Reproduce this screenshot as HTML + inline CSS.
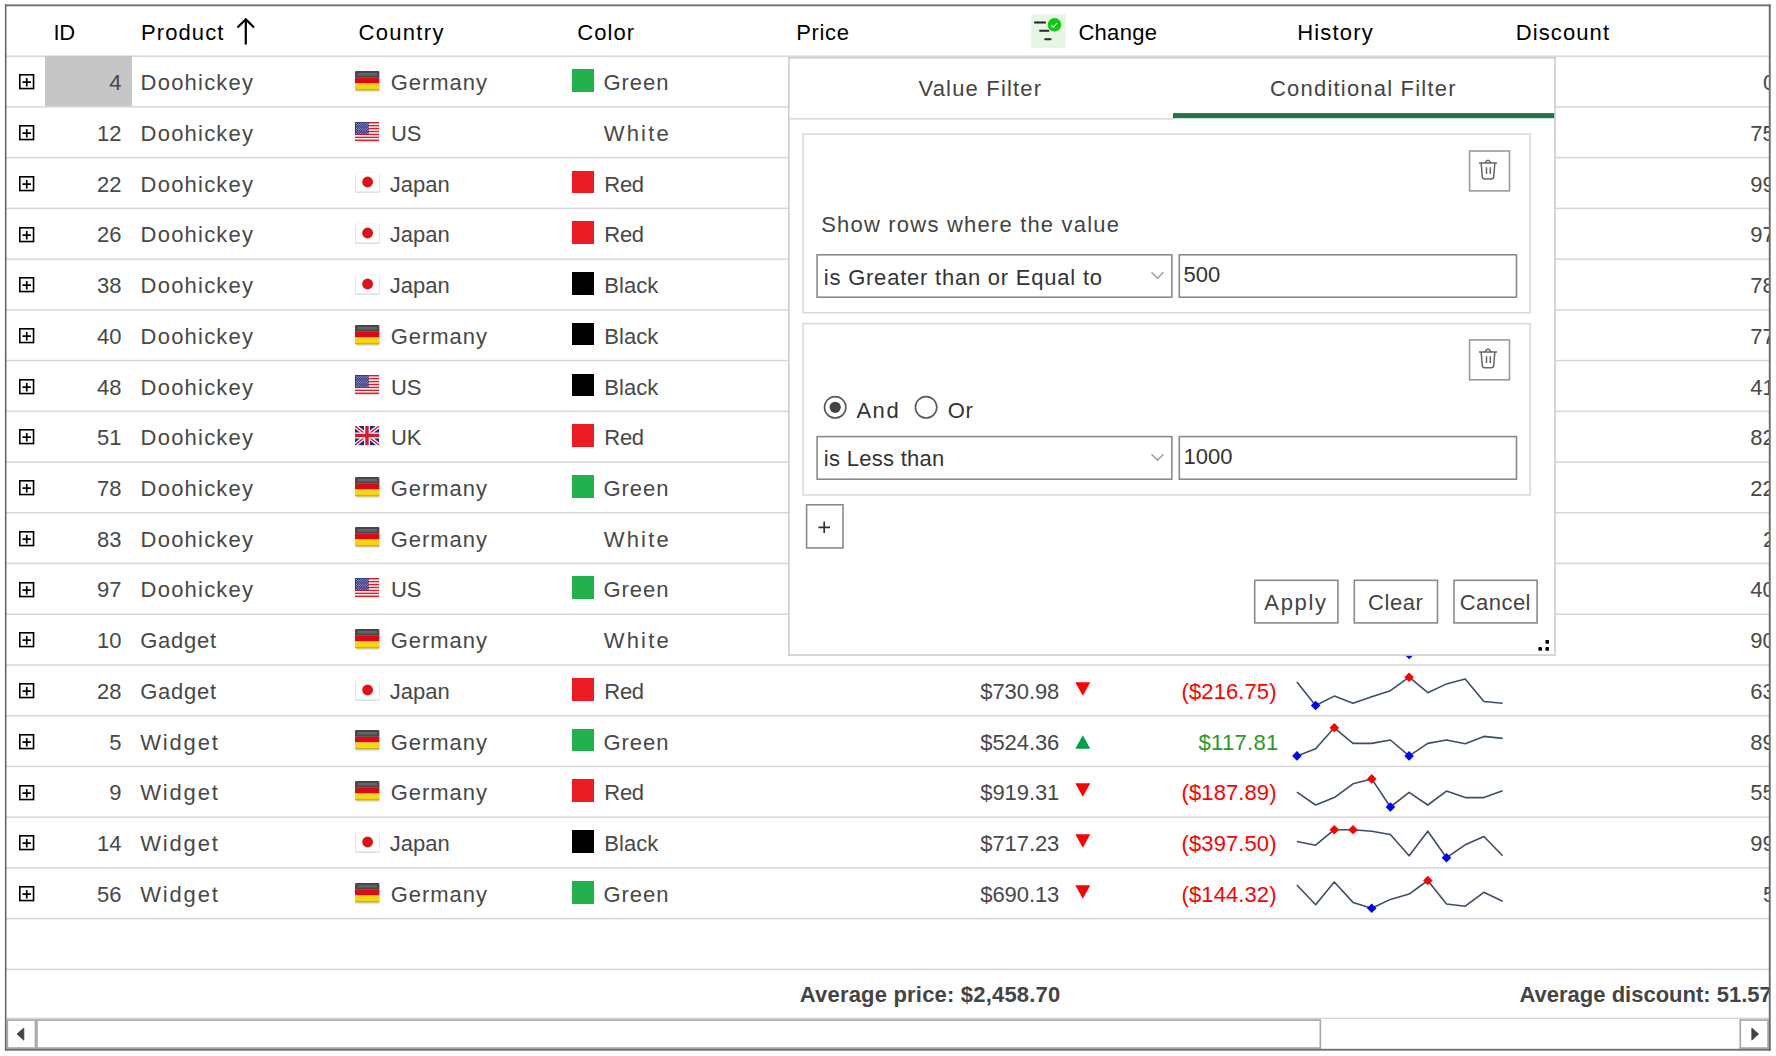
<!DOCTYPE html>
<html><head><meta charset="utf-8"><style>
html,body{margin:0;padding:0;background:#fff;}
body{width:1776px;height:1056px;position:relative;overflow:hidden;font-family:"Liberation Sans",sans-serif;}
.a{position:absolute;}
.t{position:absolute;white-space:nowrap;}
#clip{position:absolute;left:0;top:0;width:1776px;height:1056px;clip-path:inset(0 7px 0 0);}
</style></head><body>
<div id="clip"><svg class="a" style="left:0;top:0" width="1776" height="1056"><rect x="6" y="55.45" width="1764" height="1.5" fill="#d6d6d6"/><rect x="6" y="106.18" width="1764" height="1.5" fill="#d6d6d6"/><rect x="6" y="156.91" width="1764" height="1.5" fill="#d6d6d6"/><rect x="6" y="207.64" width="1764" height="1.5" fill="#d6d6d6"/><rect x="6" y="258.37" width="1764" height="1.5" fill="#d6d6d6"/><rect x="6" y="309.10" width="1764" height="1.5" fill="#d6d6d6"/><rect x="6" y="359.83" width="1764" height="1.5" fill="#d6d6d6"/><rect x="6" y="410.56" width="1764" height="1.5" fill="#d6d6d6"/><rect x="6" y="461.29" width="1764" height="1.5" fill="#d6d6d6"/><rect x="6" y="512.02" width="1764" height="1.5" fill="#d6d6d6"/><rect x="6" y="562.75" width="1764" height="1.5" fill="#d6d6d6"/><rect x="6" y="613.48" width="1764" height="1.5" fill="#d6d6d6"/><rect x="6" y="664.21" width="1764" height="1.5" fill="#d6d6d6"/><rect x="6" y="714.94" width="1764" height="1.5" fill="#d6d6d6"/><rect x="6" y="765.67" width="1764" height="1.5" fill="#d6d6d6"/><rect x="6" y="816.40" width="1764" height="1.5" fill="#d6d6d6"/><rect x="6" y="867.13" width="1764" height="1.5" fill="#d6d6d6"/><rect x="6" y="917.86" width="1764" height="1.5" fill="#d6d6d6"/><rect x="6" y="968.59" width="1764" height="1.5" fill="#d6d6d6"/><rect x="45" y="55.9" width="87" height="50.3" fill="#c6c6c6"/></svg><div class="t" style="top:21.58px;font-size:22px;line-height:22px;color:#000;letter-spacing:-0.300px;left:53.40px;">ID</div><div class="t" style="top:21.58px;font-size:22px;line-height:22px;color:#000;letter-spacing:1.100px;left:141.00px;">Product</div><svg class="a" style="left:234px;top:16px" width="24" height="30" viewBox="0 0 24 30"><path d="M11.8 3V28.5M3.5 11.5L11.8 3.2L20 11.5" fill="none" stroke="#000" stroke-width="2.2"/></svg><div class="t" style="top:21.58px;font-size:22px;line-height:22px;color:#000;letter-spacing:1.317px;left:358.50px;">Country</div><div class="t" style="top:21.58px;font-size:22px;line-height:22px;color:#000;letter-spacing:1.075px;left:577.30px;">Color</div><div class="t" style="top:21.58px;font-size:22px;line-height:22px;color:#000;letter-spacing:0.675px;left:796.20px;">Price</div><svg class="a" style="left:1031px;top:14px" width="35" height="34" viewBox="0 0 35 34"><rect x="0.3" y="0.5" width="34.4" height="33.4" rx="1" fill="#e5f6e5"/><rect x="3" y="7.5" width="12" height="2" rx="0.8" fill="#1e1e1e"/><rect x="8.2" y="15.8" width="10.2" height="2" rx="0.8" fill="#2a2a2a"/><rect x="13.3" y="24.2" width="7.2" height="2" rx="0.8" fill="#2a2a2a"/><circle cx="23.5" cy="10.8" r="6.8" fill="#12c812"/><path d="M20.4 11.5L22.4 13.2L26 9" fill="none" stroke="#e8ffe8" stroke-width="1.1"/></svg><div class="t" style="top:21.58px;font-size:22px;line-height:22px;color:#000;letter-spacing:0.300px;left:1078.40px;">Change</div><div class="t" style="top:21.58px;font-size:22px;line-height:22px;color:#000;letter-spacing:1.150px;left:1297.30px;">History</div><div class="t" style="top:21.58px;font-size:22px;line-height:22px;color:#000;letter-spacing:1.086px;left:1515.80px;">Discount</div><svg class="a" style="left:18.75px;top:74.36px" width="16" height="16" viewBox="0 0 16 16"><rect x="0.8" y="0.8" width="13.75" height="13.75" fill="none" stroke="#000" stroke-width="1.6"/><path d="M3.5 8.1H12M7.75 3.9V12.4" stroke="#000" stroke-width="1.7"/></svg><div class="t" style="top:72.14px;font-size:22px;line-height:22px;color:#484848;letter-spacing:0.000px;right:1654.46px;text-align:right;">4</div><div class="t" style="top:72.14px;font-size:22px;line-height:22px;color:#484848;letter-spacing:1.213px;left:140.60px;">Doohickey</div><svg class="a" style="left:354.5px;top:70.86px" width="26" height="22" viewBox="0 0 26 22"><rect x="0.3" y="1" width="24.6" height="19.6" fill="#000" opacity="0.10" rx="1.6"/><rect x="0.5" y="1.3" width="24" height="19.4" fill="#000" opacity="0.08" rx="1.6"/><clipPath id="cg70"><rect x="0" y="0" width="24.5" height="19.5" rx="1.3"/></clipPath><g clip-path="url(#cg70)"><rect x="0" y="0" width="24.5" height="6.8" fill="#474747"/><rect x="0" y="6.8" width="24.5" height="5.6" fill="#dc0a16"/><rect x="0" y="12.4" width="24.5" height="7.1" fill="#f6d515"/><rect x="0" y="18" width="24.5" height="1.5" fill="#c9ae1c"/><rect x="2.5" y="2" width="19.5" height="2.6" fill="#fff" opacity="0.16"/></g></svg><div class="t" style="top:72.14px;font-size:22px;line-height:22px;color:#484848;letter-spacing:0.967px;left:390.70px;">Germany</div><div class="a" style="left:571.7px;top:69.16px;width:22.7px;height:22.7px;background:#22b14c"></div><div class="t" style="top:72.14px;font-size:22px;line-height:22px;color:#484848;letter-spacing:0.950px;left:603.50px;">Green</div><div class="t" style="top:72.14px;font-size:22px;line-height:22px;color:#484848;letter-spacing:0.000px;left:1763.00px;">0%</div><svg class="a" style="left:18.75px;top:125.10px" width="16" height="16" viewBox="0 0 16 16"><rect x="0.8" y="0.8" width="13.75" height="13.75" fill="none" stroke="#000" stroke-width="1.6"/><path d="M3.5 8.1H12M7.75 3.9V12.4" stroke="#000" stroke-width="1.7"/></svg><div class="t" style="top:122.87px;font-size:22px;line-height:22px;color:#484848;letter-spacing:0.000px;right:1654.53px;text-align:right;">12</div><div class="t" style="top:122.87px;font-size:22px;line-height:22px;color:#484848;letter-spacing:1.213px;left:140.60px;">Doohickey</div><svg class="a" style="left:354.5px;top:121.6px" width="25" height="21" viewBox="0 0 25 21"><rect x="0.5" y="1.5" width="24" height="19" fill="#000" opacity="0.12" rx="1"/><rect x="0" y="0" width="24" height="19" fill="#fff"/><rect x="0" y="0.00" width="24" height="1.46" fill="#d22030"/><rect x="0" y="2.92" width="24" height="1.46" fill="#d22030"/><rect x="0" y="5.85" width="24" height="1.46" fill="#d22030"/><rect x="0" y="8.77" width="24" height="1.46" fill="#d22030"/><rect x="0" y="11.69" width="24" height="1.46" fill="#d22030"/><rect x="0" y="14.62" width="24" height="1.46" fill="#d22030"/><rect x="0" y="17.54" width="24" height="1.46" fill="#d22030"/><rect x="0" y="0" width="13.6" height="12.3" fill="#34337f"/><circle cx="1.3" cy="1.20" r="0.5" fill="#c8c8e8"/><circle cx="3.5" cy="1.20" r="0.5" fill="#c8c8e8"/><circle cx="5.7" cy="1.20" r="0.5" fill="#c8c8e8"/><circle cx="7.9" cy="1.20" r="0.5" fill="#c8c8e8"/><circle cx="10.1" cy="1.20" r="0.5" fill="#c8c8e8"/><circle cx="12.3" cy="1.20" r="0.5" fill="#c8c8e8"/><circle cx="2.4" cy="2.45" r="0.5" fill="#c8c8e8"/><circle cx="4.6" cy="2.45" r="0.5" fill="#c8c8e8"/><circle cx="6.8" cy="2.45" r="0.5" fill="#c8c8e8"/><circle cx="9.0" cy="2.45" r="0.5" fill="#c8c8e8"/><circle cx="11.2" cy="2.45" r="0.5" fill="#c8c8e8"/><circle cx="1.3" cy="3.70" r="0.5" fill="#c8c8e8"/><circle cx="3.5" cy="3.70" r="0.5" fill="#c8c8e8"/><circle cx="5.7" cy="3.70" r="0.5" fill="#c8c8e8"/><circle cx="7.9" cy="3.70" r="0.5" fill="#c8c8e8"/><circle cx="10.1" cy="3.70" r="0.5" fill="#c8c8e8"/><circle cx="12.3" cy="3.70" r="0.5" fill="#c8c8e8"/><circle cx="2.4" cy="4.95" r="0.5" fill="#c8c8e8"/><circle cx="4.6" cy="4.95" r="0.5" fill="#c8c8e8"/><circle cx="6.8" cy="4.95" r="0.5" fill="#c8c8e8"/><circle cx="9.0" cy="4.95" r="0.5" fill="#c8c8e8"/><circle cx="11.2" cy="4.95" r="0.5" fill="#c8c8e8"/><circle cx="1.3" cy="6.20" r="0.5" fill="#c8c8e8"/><circle cx="3.5" cy="6.20" r="0.5" fill="#c8c8e8"/><circle cx="5.7" cy="6.20" r="0.5" fill="#c8c8e8"/><circle cx="7.9" cy="6.20" r="0.5" fill="#c8c8e8"/><circle cx="10.1" cy="6.20" r="0.5" fill="#c8c8e8"/><circle cx="12.3" cy="6.20" r="0.5" fill="#c8c8e8"/><circle cx="2.4" cy="7.45" r="0.5" fill="#c8c8e8"/><circle cx="4.6" cy="7.45" r="0.5" fill="#c8c8e8"/><circle cx="6.8" cy="7.45" r="0.5" fill="#c8c8e8"/><circle cx="9.0" cy="7.45" r="0.5" fill="#c8c8e8"/><circle cx="11.2" cy="7.45" r="0.5" fill="#c8c8e8"/><circle cx="1.3" cy="8.70" r="0.5" fill="#c8c8e8"/><circle cx="3.5" cy="8.70" r="0.5" fill="#c8c8e8"/><circle cx="5.7" cy="8.70" r="0.5" fill="#c8c8e8"/><circle cx="7.9" cy="8.70" r="0.5" fill="#c8c8e8"/><circle cx="10.1" cy="8.70" r="0.5" fill="#c8c8e8"/><circle cx="12.3" cy="8.70" r="0.5" fill="#c8c8e8"/><circle cx="2.4" cy="9.95" r="0.5" fill="#c8c8e8"/><circle cx="4.6" cy="9.95" r="0.5" fill="#c8c8e8"/><circle cx="6.8" cy="9.95" r="0.5" fill="#c8c8e8"/><circle cx="9.0" cy="9.95" r="0.5" fill="#c8c8e8"/><circle cx="11.2" cy="9.95" r="0.5" fill="#c8c8e8"/><circle cx="1.3" cy="11.20" r="0.5" fill="#c8c8e8"/><circle cx="3.5" cy="11.20" r="0.5" fill="#c8c8e8"/><circle cx="5.7" cy="11.20" r="0.5" fill="#c8c8e8"/><circle cx="7.9" cy="11.20" r="0.5" fill="#c8c8e8"/><circle cx="10.1" cy="11.20" r="0.5" fill="#c8c8e8"/><circle cx="12.3" cy="11.20" r="0.5" fill="#c8c8e8"/></svg><div class="t" style="top:122.87px;font-size:22px;line-height:22px;color:#484848;letter-spacing:-0.300px;left:391.10px;">US</div><div class="t" style="top:122.87px;font-size:22px;line-height:22px;color:#484848;letter-spacing:2.200px;left:603.70px;">White</div><div class="t" style="top:122.87px;font-size:22px;line-height:22px;color:#484848;letter-spacing:0.000px;left:1750.30px;">75%</div><svg class="a" style="left:18.75px;top:175.82px" width="16" height="16" viewBox="0 0 16 16"><rect x="0.8" y="0.8" width="13.75" height="13.75" fill="none" stroke="#000" stroke-width="1.6"/><path d="M3.5 8.1H12M7.75 3.9V12.4" stroke="#000" stroke-width="1.7"/></svg><div class="t" style="top:173.60px;font-size:22px;line-height:22px;color:#484848;letter-spacing:0.000px;right:1654.53px;text-align:right;">22</div><div class="t" style="top:173.60px;font-size:22px;line-height:22px;color:#484848;letter-spacing:1.213px;left:140.60px;">Doohickey</div><svg class="a" style="left:354.5px;top:172.32px" width="26" height="22" viewBox="0 0 26 22"><rect x="0" y="0.3" width="25" height="20.7" fill="#000" opacity="0.07" rx="1.8"/><rect x="0.3" y="0.8" width="24.6" height="20" fill="#000" opacity="0.08" rx="1.6"/><rect x="0.8" y="0.6" width="23.6" height="18.8" fill="#fff" rx="1"/><circle cx="12.6" cy="10" r="5.4" fill="#e0101a"/></svg><div class="t" style="top:173.60px;font-size:22px;line-height:22px;color:#484848;letter-spacing:-0.025px;left:389.80px;">Japan</div><div class="a" style="left:571.7px;top:170.62px;width:22.7px;height:22.7px;background:#ed1c24"></div><div class="t" style="top:173.60px;font-size:22px;line-height:22px;color:#484848;letter-spacing:-0.300px;left:604.30px;">Red</div><div class="t" style="top:173.60px;font-size:22px;line-height:22px;color:#484848;letter-spacing:0.000px;left:1750.30px;">99%</div><svg class="a" style="left:18.75px;top:226.56px" width="16" height="16" viewBox="0 0 16 16"><rect x="0.8" y="0.8" width="13.75" height="13.75" fill="none" stroke="#000" stroke-width="1.6"/><path d="M3.5 8.1H12M7.75 3.9V12.4" stroke="#000" stroke-width="1.7"/></svg><div class="t" style="top:224.33px;font-size:22px;line-height:22px;color:#484848;letter-spacing:0.000px;right:1654.53px;text-align:right;">26</div><div class="t" style="top:224.33px;font-size:22px;line-height:22px;color:#484848;letter-spacing:1.213px;left:140.60px;">Doohickey</div><svg class="a" style="left:354.5px;top:223.06px" width="26" height="22" viewBox="0 0 26 22"><rect x="0" y="0.3" width="25" height="20.7" fill="#000" opacity="0.07" rx="1.8"/><rect x="0.3" y="0.8" width="24.6" height="20" fill="#000" opacity="0.08" rx="1.6"/><rect x="0.8" y="0.6" width="23.6" height="18.8" fill="#fff" rx="1"/><circle cx="12.6" cy="10" r="5.4" fill="#e0101a"/></svg><div class="t" style="top:224.33px;font-size:22px;line-height:22px;color:#484848;letter-spacing:-0.025px;left:389.80px;">Japan</div><div class="a" style="left:571.7px;top:221.35px;width:22.7px;height:22.7px;background:#ed1c24"></div><div class="t" style="top:224.33px;font-size:22px;line-height:22px;color:#484848;letter-spacing:-0.300px;left:604.30px;">Red</div><div class="t" style="top:224.33px;font-size:22px;line-height:22px;color:#484848;letter-spacing:0.000px;left:1750.30px;">97%</div><svg class="a" style="left:18.75px;top:277.29px" width="16" height="16" viewBox="0 0 16 16"><rect x="0.8" y="0.8" width="13.75" height="13.75" fill="none" stroke="#000" stroke-width="1.6"/><path d="M3.5 8.1H12M7.75 3.9V12.4" stroke="#000" stroke-width="1.7"/></svg><div class="t" style="top:275.06px;font-size:22px;line-height:22px;color:#484848;letter-spacing:0.000px;right:1654.53px;text-align:right;">38</div><div class="t" style="top:275.06px;font-size:22px;line-height:22px;color:#484848;letter-spacing:1.213px;left:140.60px;">Doohickey</div><svg class="a" style="left:354.5px;top:273.79px" width="26" height="22" viewBox="0 0 26 22"><rect x="0" y="0.3" width="25" height="20.7" fill="#000" opacity="0.07" rx="1.8"/><rect x="0.3" y="0.8" width="24.6" height="20" fill="#000" opacity="0.08" rx="1.6"/><rect x="0.8" y="0.6" width="23.6" height="18.8" fill="#fff" rx="1"/><circle cx="12.6" cy="10" r="5.4" fill="#e0101a"/></svg><div class="t" style="top:275.06px;font-size:22px;line-height:22px;color:#484848;letter-spacing:-0.025px;left:389.80px;">Japan</div><div class="a" style="left:571.7px;top:272.09px;width:22.7px;height:22.7px;background:#000"></div><div class="t" style="top:275.06px;font-size:22px;line-height:22px;color:#484848;letter-spacing:0.050px;left:604.30px;">Black</div><div class="t" style="top:275.06px;font-size:22px;line-height:22px;color:#484848;letter-spacing:0.000px;left:1750.30px;">78%</div><svg class="a" style="left:18.75px;top:328.01px" width="16" height="16" viewBox="0 0 16 16"><rect x="0.8" y="0.8" width="13.75" height="13.75" fill="none" stroke="#000" stroke-width="1.6"/><path d="M3.5 8.1H12M7.75 3.9V12.4" stroke="#000" stroke-width="1.7"/></svg><div class="t" style="top:325.79px;font-size:22px;line-height:22px;color:#484848;letter-spacing:0.000px;right:1654.53px;text-align:right;">40</div><div class="t" style="top:325.79px;font-size:22px;line-height:22px;color:#484848;letter-spacing:1.213px;left:140.60px;">Doohickey</div><svg class="a" style="left:354.5px;top:324.51px" width="26" height="22" viewBox="0 0 26 22"><rect x="0.3" y="1" width="24.6" height="19.6" fill="#000" opacity="0.10" rx="1.6"/><rect x="0.5" y="1.3" width="24" height="19.4" fill="#000" opacity="0.08" rx="1.6"/><clipPath id="cg324"><rect x="0" y="0" width="24.5" height="19.5" rx="1.3"/></clipPath><g clip-path="url(#cg324)"><rect x="0" y="0" width="24.5" height="6.8" fill="#474747"/><rect x="0" y="6.8" width="24.5" height="5.6" fill="#dc0a16"/><rect x="0" y="12.4" width="24.5" height="7.1" fill="#f6d515"/><rect x="0" y="18" width="24.5" height="1.5" fill="#c9ae1c"/><rect x="2.5" y="2" width="19.5" height="2.6" fill="#fff" opacity="0.16"/></g></svg><div class="t" style="top:325.79px;font-size:22px;line-height:22px;color:#484848;letter-spacing:0.967px;left:390.70px;">Germany</div><div class="a" style="left:571.7px;top:322.81px;width:22.7px;height:22.7px;background:#000"></div><div class="t" style="top:325.79px;font-size:22px;line-height:22px;color:#484848;letter-spacing:0.050px;left:604.30px;">Black</div><div class="t" style="top:325.79px;font-size:22px;line-height:22px;color:#484848;letter-spacing:0.000px;left:1750.30px;">77%</div><svg class="a" style="left:18.75px;top:378.75px" width="16" height="16" viewBox="0 0 16 16"><rect x="0.8" y="0.8" width="13.75" height="13.75" fill="none" stroke="#000" stroke-width="1.6"/><path d="M3.5 8.1H12M7.75 3.9V12.4" stroke="#000" stroke-width="1.7"/></svg><div class="t" style="top:376.52px;font-size:22px;line-height:22px;color:#484848;letter-spacing:0.000px;right:1654.53px;text-align:right;">48</div><div class="t" style="top:376.52px;font-size:22px;line-height:22px;color:#484848;letter-spacing:1.213px;left:140.60px;">Doohickey</div><svg class="a" style="left:354.5px;top:375.25px" width="25" height="21" viewBox="0 0 25 21"><rect x="0.5" y="1.5" width="24" height="19" fill="#000" opacity="0.12" rx="1"/><rect x="0" y="0" width="24" height="19" fill="#fff"/><rect x="0" y="0.00" width="24" height="1.46" fill="#d22030"/><rect x="0" y="2.92" width="24" height="1.46" fill="#d22030"/><rect x="0" y="5.85" width="24" height="1.46" fill="#d22030"/><rect x="0" y="8.77" width="24" height="1.46" fill="#d22030"/><rect x="0" y="11.69" width="24" height="1.46" fill="#d22030"/><rect x="0" y="14.62" width="24" height="1.46" fill="#d22030"/><rect x="0" y="17.54" width="24" height="1.46" fill="#d22030"/><rect x="0" y="0" width="13.6" height="12.3" fill="#34337f"/><circle cx="1.3" cy="1.20" r="0.5" fill="#c8c8e8"/><circle cx="3.5" cy="1.20" r="0.5" fill="#c8c8e8"/><circle cx="5.7" cy="1.20" r="0.5" fill="#c8c8e8"/><circle cx="7.9" cy="1.20" r="0.5" fill="#c8c8e8"/><circle cx="10.1" cy="1.20" r="0.5" fill="#c8c8e8"/><circle cx="12.3" cy="1.20" r="0.5" fill="#c8c8e8"/><circle cx="2.4" cy="2.45" r="0.5" fill="#c8c8e8"/><circle cx="4.6" cy="2.45" r="0.5" fill="#c8c8e8"/><circle cx="6.8" cy="2.45" r="0.5" fill="#c8c8e8"/><circle cx="9.0" cy="2.45" r="0.5" fill="#c8c8e8"/><circle cx="11.2" cy="2.45" r="0.5" fill="#c8c8e8"/><circle cx="1.3" cy="3.70" r="0.5" fill="#c8c8e8"/><circle cx="3.5" cy="3.70" r="0.5" fill="#c8c8e8"/><circle cx="5.7" cy="3.70" r="0.5" fill="#c8c8e8"/><circle cx="7.9" cy="3.70" r="0.5" fill="#c8c8e8"/><circle cx="10.1" cy="3.70" r="0.5" fill="#c8c8e8"/><circle cx="12.3" cy="3.70" r="0.5" fill="#c8c8e8"/><circle cx="2.4" cy="4.95" r="0.5" fill="#c8c8e8"/><circle cx="4.6" cy="4.95" r="0.5" fill="#c8c8e8"/><circle cx="6.8" cy="4.95" r="0.5" fill="#c8c8e8"/><circle cx="9.0" cy="4.95" r="0.5" fill="#c8c8e8"/><circle cx="11.2" cy="4.95" r="0.5" fill="#c8c8e8"/><circle cx="1.3" cy="6.20" r="0.5" fill="#c8c8e8"/><circle cx="3.5" cy="6.20" r="0.5" fill="#c8c8e8"/><circle cx="5.7" cy="6.20" r="0.5" fill="#c8c8e8"/><circle cx="7.9" cy="6.20" r="0.5" fill="#c8c8e8"/><circle cx="10.1" cy="6.20" r="0.5" fill="#c8c8e8"/><circle cx="12.3" cy="6.20" r="0.5" fill="#c8c8e8"/><circle cx="2.4" cy="7.45" r="0.5" fill="#c8c8e8"/><circle cx="4.6" cy="7.45" r="0.5" fill="#c8c8e8"/><circle cx="6.8" cy="7.45" r="0.5" fill="#c8c8e8"/><circle cx="9.0" cy="7.45" r="0.5" fill="#c8c8e8"/><circle cx="11.2" cy="7.45" r="0.5" fill="#c8c8e8"/><circle cx="1.3" cy="8.70" r="0.5" fill="#c8c8e8"/><circle cx="3.5" cy="8.70" r="0.5" fill="#c8c8e8"/><circle cx="5.7" cy="8.70" r="0.5" fill="#c8c8e8"/><circle cx="7.9" cy="8.70" r="0.5" fill="#c8c8e8"/><circle cx="10.1" cy="8.70" r="0.5" fill="#c8c8e8"/><circle cx="12.3" cy="8.70" r="0.5" fill="#c8c8e8"/><circle cx="2.4" cy="9.95" r="0.5" fill="#c8c8e8"/><circle cx="4.6" cy="9.95" r="0.5" fill="#c8c8e8"/><circle cx="6.8" cy="9.95" r="0.5" fill="#c8c8e8"/><circle cx="9.0" cy="9.95" r="0.5" fill="#c8c8e8"/><circle cx="11.2" cy="9.95" r="0.5" fill="#c8c8e8"/><circle cx="1.3" cy="11.20" r="0.5" fill="#c8c8e8"/><circle cx="3.5" cy="11.20" r="0.5" fill="#c8c8e8"/><circle cx="5.7" cy="11.20" r="0.5" fill="#c8c8e8"/><circle cx="7.9" cy="11.20" r="0.5" fill="#c8c8e8"/><circle cx="10.1" cy="11.20" r="0.5" fill="#c8c8e8"/><circle cx="12.3" cy="11.20" r="0.5" fill="#c8c8e8"/></svg><div class="t" style="top:376.52px;font-size:22px;line-height:22px;color:#484848;letter-spacing:-0.300px;left:391.10px;">US</div><div class="a" style="left:571.7px;top:373.55px;width:22.7px;height:22.7px;background:#000"></div><div class="t" style="top:376.52px;font-size:22px;line-height:22px;color:#484848;letter-spacing:0.050px;left:604.30px;">Black</div><div class="t" style="top:376.52px;font-size:22px;line-height:22px;color:#484848;letter-spacing:0.000px;left:1750.30px;">41%</div><svg class="a" style="left:18.75px;top:429.47px" width="16" height="16" viewBox="0 0 16 16"><rect x="0.8" y="0.8" width="13.75" height="13.75" fill="none" stroke="#000" stroke-width="1.6"/><path d="M3.5 8.1H12M7.75 3.9V12.4" stroke="#000" stroke-width="1.7"/></svg><div class="t" style="top:427.25px;font-size:22px;line-height:22px;color:#484848;letter-spacing:0.000px;right:1654.53px;text-align:right;">51</div><div class="t" style="top:427.25px;font-size:22px;line-height:22px;color:#484848;letter-spacing:1.213px;left:140.60px;">Doohickey</div><svg class="a" style="left:354.5px;top:425.97px" width="25" height="21" viewBox="0 0 25 21"><rect x="0.5" y="1.5" width="24" height="19" fill="#000" opacity="0.12" rx="1"/><rect x="0" y="0" width="24" height="19" fill="#232a78"/><path d="M0 0L24 19M24 0L0 19" stroke="#fff" stroke-width="4"/><path d="M0 0L24 19M24 0L0 19" stroke="#d01c30" stroke-width="1.4"/><path d="M12 0V19M0 9.5H24" stroke="#fff" stroke-width="6"/><path d="M12 0V19M0 9.5H24" stroke="#d01c30" stroke-width="3.4"/></svg><div class="t" style="top:427.25px;font-size:22px;line-height:22px;color:#484848;letter-spacing:-0.300px;left:391.10px;">UK</div><div class="a" style="left:571.7px;top:424.27px;width:22.7px;height:22.7px;background:#ed1c24"></div><div class="t" style="top:427.25px;font-size:22px;line-height:22px;color:#484848;letter-spacing:-0.300px;left:604.30px;">Red</div><div class="t" style="top:427.25px;font-size:22px;line-height:22px;color:#484848;letter-spacing:0.000px;left:1750.30px;">82%</div><svg class="a" style="left:18.75px;top:480.20px" width="16" height="16" viewBox="0 0 16 16"><rect x="0.8" y="0.8" width="13.75" height="13.75" fill="none" stroke="#000" stroke-width="1.6"/><path d="M3.5 8.1H12M7.75 3.9V12.4" stroke="#000" stroke-width="1.7"/></svg><div class="t" style="top:477.98px;font-size:22px;line-height:22px;color:#484848;letter-spacing:0.000px;right:1654.53px;text-align:right;">78</div><div class="t" style="top:477.98px;font-size:22px;line-height:22px;color:#484848;letter-spacing:1.213px;left:140.60px;">Doohickey</div><svg class="a" style="left:354.5px;top:476.7px" width="26" height="22" viewBox="0 0 26 22"><rect x="0.3" y="1" width="24.6" height="19.6" fill="#000" opacity="0.10" rx="1.6"/><rect x="0.5" y="1.3" width="24" height="19.4" fill="#000" opacity="0.08" rx="1.6"/><clipPath id="cg476"><rect x="0" y="0" width="24.5" height="19.5" rx="1.3"/></clipPath><g clip-path="url(#cg476)"><rect x="0" y="0" width="24.5" height="6.8" fill="#474747"/><rect x="0" y="6.8" width="24.5" height="5.6" fill="#dc0a16"/><rect x="0" y="12.4" width="24.5" height="7.1" fill="#f6d515"/><rect x="0" y="18" width="24.5" height="1.5" fill="#c9ae1c"/><rect x="2.5" y="2" width="19.5" height="2.6" fill="#fff" opacity="0.16"/></g></svg><div class="t" style="top:477.98px;font-size:22px;line-height:22px;color:#484848;letter-spacing:0.967px;left:390.70px;">Germany</div><div class="a" style="left:571.7px;top:475.00px;width:22.7px;height:22.7px;background:#22b14c"></div><div class="t" style="top:477.98px;font-size:22px;line-height:22px;color:#484848;letter-spacing:0.950px;left:603.50px;">Green</div><div class="t" style="top:477.98px;font-size:22px;line-height:22px;color:#484848;letter-spacing:0.000px;left:1750.30px;">22%</div><svg class="a" style="left:18.75px;top:530.93px" width="16" height="16" viewBox="0 0 16 16"><rect x="0.8" y="0.8" width="13.75" height="13.75" fill="none" stroke="#000" stroke-width="1.6"/><path d="M3.5 8.1H12M7.75 3.9V12.4" stroke="#000" stroke-width="1.7"/></svg><div class="t" style="top:528.71px;font-size:22px;line-height:22px;color:#484848;letter-spacing:0.000px;right:1654.53px;text-align:right;">83</div><div class="t" style="top:528.71px;font-size:22px;line-height:22px;color:#484848;letter-spacing:1.213px;left:140.60px;">Doohickey</div><svg class="a" style="left:354.5px;top:527.43px" width="26" height="22" viewBox="0 0 26 22"><rect x="0.3" y="1" width="24.6" height="19.6" fill="#000" opacity="0.10" rx="1.6"/><rect x="0.5" y="1.3" width="24" height="19.4" fill="#000" opacity="0.08" rx="1.6"/><clipPath id="cg527"><rect x="0" y="0" width="24.5" height="19.5" rx="1.3"/></clipPath><g clip-path="url(#cg527)"><rect x="0" y="0" width="24.5" height="6.8" fill="#474747"/><rect x="0" y="6.8" width="24.5" height="5.6" fill="#dc0a16"/><rect x="0" y="12.4" width="24.5" height="7.1" fill="#f6d515"/><rect x="0" y="18" width="24.5" height="1.5" fill="#c9ae1c"/><rect x="2.5" y="2" width="19.5" height="2.6" fill="#fff" opacity="0.16"/></g></svg><div class="t" style="top:528.71px;font-size:22px;line-height:22px;color:#484848;letter-spacing:0.967px;left:390.70px;">Germany</div><div class="t" style="top:528.71px;font-size:22px;line-height:22px;color:#484848;letter-spacing:2.200px;left:603.70px;">White</div><div class="t" style="top:528.71px;font-size:22px;line-height:22px;color:#484848;letter-spacing:0.000px;left:1763.00px;">2%</div><svg class="a" style="left:18.75px;top:581.66px" width="16" height="16" viewBox="0 0 16 16"><rect x="0.8" y="0.8" width="13.75" height="13.75" fill="none" stroke="#000" stroke-width="1.6"/><path d="M3.5 8.1H12M7.75 3.9V12.4" stroke="#000" stroke-width="1.7"/></svg><div class="t" style="top:579.44px;font-size:22px;line-height:22px;color:#484848;letter-spacing:0.000px;right:1654.53px;text-align:right;">97</div><div class="t" style="top:579.44px;font-size:22px;line-height:22px;color:#484848;letter-spacing:1.213px;left:140.60px;">Doohickey</div><svg class="a" style="left:354.5px;top:578.16px" width="25" height="21" viewBox="0 0 25 21"><rect x="0.5" y="1.5" width="24" height="19" fill="#000" opacity="0.12" rx="1"/><rect x="0" y="0" width="24" height="19" fill="#fff"/><rect x="0" y="0.00" width="24" height="1.46" fill="#d22030"/><rect x="0" y="2.92" width="24" height="1.46" fill="#d22030"/><rect x="0" y="5.85" width="24" height="1.46" fill="#d22030"/><rect x="0" y="8.77" width="24" height="1.46" fill="#d22030"/><rect x="0" y="11.69" width="24" height="1.46" fill="#d22030"/><rect x="0" y="14.62" width="24" height="1.46" fill="#d22030"/><rect x="0" y="17.54" width="24" height="1.46" fill="#d22030"/><rect x="0" y="0" width="13.6" height="12.3" fill="#34337f"/><circle cx="1.3" cy="1.20" r="0.5" fill="#c8c8e8"/><circle cx="3.5" cy="1.20" r="0.5" fill="#c8c8e8"/><circle cx="5.7" cy="1.20" r="0.5" fill="#c8c8e8"/><circle cx="7.9" cy="1.20" r="0.5" fill="#c8c8e8"/><circle cx="10.1" cy="1.20" r="0.5" fill="#c8c8e8"/><circle cx="12.3" cy="1.20" r="0.5" fill="#c8c8e8"/><circle cx="2.4" cy="2.45" r="0.5" fill="#c8c8e8"/><circle cx="4.6" cy="2.45" r="0.5" fill="#c8c8e8"/><circle cx="6.8" cy="2.45" r="0.5" fill="#c8c8e8"/><circle cx="9.0" cy="2.45" r="0.5" fill="#c8c8e8"/><circle cx="11.2" cy="2.45" r="0.5" fill="#c8c8e8"/><circle cx="1.3" cy="3.70" r="0.5" fill="#c8c8e8"/><circle cx="3.5" cy="3.70" r="0.5" fill="#c8c8e8"/><circle cx="5.7" cy="3.70" r="0.5" fill="#c8c8e8"/><circle cx="7.9" cy="3.70" r="0.5" fill="#c8c8e8"/><circle cx="10.1" cy="3.70" r="0.5" fill="#c8c8e8"/><circle cx="12.3" cy="3.70" r="0.5" fill="#c8c8e8"/><circle cx="2.4" cy="4.95" r="0.5" fill="#c8c8e8"/><circle cx="4.6" cy="4.95" r="0.5" fill="#c8c8e8"/><circle cx="6.8" cy="4.95" r="0.5" fill="#c8c8e8"/><circle cx="9.0" cy="4.95" r="0.5" fill="#c8c8e8"/><circle cx="11.2" cy="4.95" r="0.5" fill="#c8c8e8"/><circle cx="1.3" cy="6.20" r="0.5" fill="#c8c8e8"/><circle cx="3.5" cy="6.20" r="0.5" fill="#c8c8e8"/><circle cx="5.7" cy="6.20" r="0.5" fill="#c8c8e8"/><circle cx="7.9" cy="6.20" r="0.5" fill="#c8c8e8"/><circle cx="10.1" cy="6.20" r="0.5" fill="#c8c8e8"/><circle cx="12.3" cy="6.20" r="0.5" fill="#c8c8e8"/><circle cx="2.4" cy="7.45" r="0.5" fill="#c8c8e8"/><circle cx="4.6" cy="7.45" r="0.5" fill="#c8c8e8"/><circle cx="6.8" cy="7.45" r="0.5" fill="#c8c8e8"/><circle cx="9.0" cy="7.45" r="0.5" fill="#c8c8e8"/><circle cx="11.2" cy="7.45" r="0.5" fill="#c8c8e8"/><circle cx="1.3" cy="8.70" r="0.5" fill="#c8c8e8"/><circle cx="3.5" cy="8.70" r="0.5" fill="#c8c8e8"/><circle cx="5.7" cy="8.70" r="0.5" fill="#c8c8e8"/><circle cx="7.9" cy="8.70" r="0.5" fill="#c8c8e8"/><circle cx="10.1" cy="8.70" r="0.5" fill="#c8c8e8"/><circle cx="12.3" cy="8.70" r="0.5" fill="#c8c8e8"/><circle cx="2.4" cy="9.95" r="0.5" fill="#c8c8e8"/><circle cx="4.6" cy="9.95" r="0.5" fill="#c8c8e8"/><circle cx="6.8" cy="9.95" r="0.5" fill="#c8c8e8"/><circle cx="9.0" cy="9.95" r="0.5" fill="#c8c8e8"/><circle cx="11.2" cy="9.95" r="0.5" fill="#c8c8e8"/><circle cx="1.3" cy="11.20" r="0.5" fill="#c8c8e8"/><circle cx="3.5" cy="11.20" r="0.5" fill="#c8c8e8"/><circle cx="5.7" cy="11.20" r="0.5" fill="#c8c8e8"/><circle cx="7.9" cy="11.20" r="0.5" fill="#c8c8e8"/><circle cx="10.1" cy="11.20" r="0.5" fill="#c8c8e8"/><circle cx="12.3" cy="11.20" r="0.5" fill="#c8c8e8"/></svg><div class="t" style="top:579.44px;font-size:22px;line-height:22px;color:#484848;letter-spacing:-0.300px;left:391.10px;">US</div><div class="a" style="left:571.7px;top:576.47px;width:22.7px;height:22.7px;background:#22b14c"></div><div class="t" style="top:579.44px;font-size:22px;line-height:22px;color:#484848;letter-spacing:0.950px;left:603.50px;">Green</div><div class="t" style="top:579.44px;font-size:22px;line-height:22px;color:#484848;letter-spacing:0.000px;left:1750.30px;">40%</div><svg class="a" style="left:18.75px;top:632.39px" width="16" height="16" viewBox="0 0 16 16"><rect x="0.8" y="0.8" width="13.75" height="13.75" fill="none" stroke="#000" stroke-width="1.6"/><path d="M3.5 8.1H12M7.75 3.9V12.4" stroke="#000" stroke-width="1.7"/></svg><div class="t" style="top:630.17px;font-size:22px;line-height:22px;color:#484848;letter-spacing:0.000px;right:1654.53px;text-align:right;">10</div><div class="t" style="top:630.17px;font-size:22px;line-height:22px;color:#484848;letter-spacing:0.760px;left:140.20px;">Gadget</div><svg class="a" style="left:354.5px;top:628.89px" width="26" height="22" viewBox="0 0 26 22"><rect x="0.3" y="1" width="24.6" height="19.6" fill="#000" opacity="0.10" rx="1.6"/><rect x="0.5" y="1.3" width="24" height="19.4" fill="#000" opacity="0.08" rx="1.6"/><clipPath id="cg628"><rect x="0" y="0" width="24.5" height="19.5" rx="1.3"/></clipPath><g clip-path="url(#cg628)"><rect x="0" y="0" width="24.5" height="6.8" fill="#474747"/><rect x="0" y="6.8" width="24.5" height="5.6" fill="#dc0a16"/><rect x="0" y="12.4" width="24.5" height="7.1" fill="#f6d515"/><rect x="0" y="18" width="24.5" height="1.5" fill="#c9ae1c"/><rect x="2.5" y="2" width="19.5" height="2.6" fill="#fff" opacity="0.16"/></g></svg><div class="t" style="top:630.17px;font-size:22px;line-height:22px;color:#484848;letter-spacing:0.967px;left:390.70px;">Germany</div><div class="t" style="top:630.17px;font-size:22px;line-height:22px;color:#484848;letter-spacing:2.200px;left:603.70px;">White</div><div class="t" style="top:630.17px;font-size:22px;line-height:22px;color:#484848;letter-spacing:0.000px;left:1750.30px;">90%</div><svg class="a" style="left:18.75px;top:683.12px" width="16" height="16" viewBox="0 0 16 16"><rect x="0.8" y="0.8" width="13.75" height="13.75" fill="none" stroke="#000" stroke-width="1.6"/><path d="M3.5 8.1H12M7.75 3.9V12.4" stroke="#000" stroke-width="1.7"/></svg><div class="t" style="top:680.90px;font-size:22px;line-height:22px;color:#484848;letter-spacing:0.000px;right:1654.53px;text-align:right;">28</div><div class="t" style="top:680.90px;font-size:22px;line-height:22px;color:#484848;letter-spacing:0.760px;left:140.20px;">Gadget</div><svg class="a" style="left:354.5px;top:679.62px" width="26" height="22" viewBox="0 0 26 22"><rect x="0" y="0.3" width="25" height="20.7" fill="#000" opacity="0.07" rx="1.8"/><rect x="0.3" y="0.8" width="24.6" height="20" fill="#000" opacity="0.08" rx="1.6"/><rect x="0.8" y="0.6" width="23.6" height="18.8" fill="#fff" rx="1"/><circle cx="12.6" cy="10" r="5.4" fill="#e0101a"/></svg><div class="t" style="top:680.90px;font-size:22px;line-height:22px;color:#484848;letter-spacing:-0.025px;left:389.80px;">Japan</div><div class="a" style="left:571.7px;top:677.93px;width:22.7px;height:22.7px;background:#ed1c24"></div><div class="t" style="top:680.90px;font-size:22px;line-height:22px;color:#484848;letter-spacing:-0.300px;left:604.30px;">Red</div><div class="t" style="top:680.90px;font-size:22px;line-height:22px;color:#484848;letter-spacing:-0.083px;left:980.30px;">$730.98</div><svg class="a" style="left:1075px;top:681.62px" width="16" height="14" viewBox="0 0 16 14"><path d="M0.3 0.3H15.3L7.8 13.7Z" fill="#ff0000"/></svg><div class="t" style="top:680.90px;font-size:22px;line-height:22px;color:#ff0000;letter-spacing:0.088px;left:1181.60px;">($216.75)</div><div class="t" style="top:680.90px;font-size:22px;line-height:22px;color:#484848;letter-spacing:0.000px;left:1750.30px;">63%</div><svg class="a" style="left:18.75px;top:733.85px" width="16" height="16" viewBox="0 0 16 16"><rect x="0.8" y="0.8" width="13.75" height="13.75" fill="none" stroke="#000" stroke-width="1.6"/><path d="M3.5 8.1H12M7.75 3.9V12.4" stroke="#000" stroke-width="1.7"/></svg><div class="t" style="top:731.63px;font-size:22px;line-height:22px;color:#484848;letter-spacing:0.000px;right:1654.46px;text-align:right;">5</div><div class="t" style="top:731.63px;font-size:22px;line-height:22px;color:#484848;letter-spacing:1.840px;left:140.20px;">Widget</div><svg class="a" style="left:354.5px;top:730.35px" width="26" height="22" viewBox="0 0 26 22"><rect x="0.3" y="1" width="24.6" height="19.6" fill="#000" opacity="0.10" rx="1.6"/><rect x="0.5" y="1.3" width="24" height="19.4" fill="#000" opacity="0.08" rx="1.6"/><clipPath id="cg730"><rect x="0" y="0" width="24.5" height="19.5" rx="1.3"/></clipPath><g clip-path="url(#cg730)"><rect x="0" y="0" width="24.5" height="6.8" fill="#474747"/><rect x="0" y="6.8" width="24.5" height="5.6" fill="#dc0a16"/><rect x="0" y="12.4" width="24.5" height="7.1" fill="#f6d515"/><rect x="0" y="18" width="24.5" height="1.5" fill="#c9ae1c"/><rect x="2.5" y="2" width="19.5" height="2.6" fill="#fff" opacity="0.16"/></g></svg><div class="t" style="top:731.63px;font-size:22px;line-height:22px;color:#484848;letter-spacing:0.967px;left:390.70px;">Germany</div><div class="a" style="left:571.7px;top:728.65px;width:22.7px;height:22.7px;background:#22b14c"></div><div class="t" style="top:731.63px;font-size:22px;line-height:22px;color:#484848;letter-spacing:0.950px;left:603.50px;">Green</div><div class="t" style="top:731.63px;font-size:22px;line-height:22px;color:#484848;letter-spacing:-0.083px;left:980.30px;">$524.36</div><svg class="a" style="left:1075px;top:735.45px" width="16" height="14" viewBox="0 0 16 14"><path d="M0.3 13.7H15.3L7.8 0.3Z" fill="#00a04a"/></svg><div class="t" style="top:731.63px;font-size:22px;line-height:22px;color:#2a9a2a;letter-spacing:0.283px;left:1198.60px;">$117.81</div><div class="t" style="top:731.63px;font-size:22px;line-height:22px;color:#484848;letter-spacing:0.000px;left:1750.30px;">89%</div><svg class="a" style="left:18.75px;top:784.58px" width="16" height="16" viewBox="0 0 16 16"><rect x="0.8" y="0.8" width="13.75" height="13.75" fill="none" stroke="#000" stroke-width="1.6"/><path d="M3.5 8.1H12M7.75 3.9V12.4" stroke="#000" stroke-width="1.7"/></svg><div class="t" style="top:782.36px;font-size:22px;line-height:22px;color:#484848;letter-spacing:0.000px;right:1654.46px;text-align:right;">9</div><div class="t" style="top:782.36px;font-size:22px;line-height:22px;color:#484848;letter-spacing:1.840px;left:140.20px;">Widget</div><svg class="a" style="left:354.5px;top:781.08px" width="26" height="22" viewBox="0 0 26 22"><rect x="0.3" y="1" width="24.6" height="19.6" fill="#000" opacity="0.10" rx="1.6"/><rect x="0.5" y="1.3" width="24" height="19.4" fill="#000" opacity="0.08" rx="1.6"/><clipPath id="cg781"><rect x="0" y="0" width="24.5" height="19.5" rx="1.3"/></clipPath><g clip-path="url(#cg781)"><rect x="0" y="0" width="24.5" height="6.8" fill="#474747"/><rect x="0" y="6.8" width="24.5" height="5.6" fill="#dc0a16"/><rect x="0" y="12.4" width="24.5" height="7.1" fill="#f6d515"/><rect x="0" y="18" width="24.5" height="1.5" fill="#c9ae1c"/><rect x="2.5" y="2" width="19.5" height="2.6" fill="#fff" opacity="0.16"/></g></svg><div class="t" style="top:782.36px;font-size:22px;line-height:22px;color:#484848;letter-spacing:0.967px;left:390.70px;">Germany</div><div class="a" style="left:571.7px;top:779.38px;width:22.7px;height:22.7px;background:#ed1c24"></div><div class="t" style="top:782.36px;font-size:22px;line-height:22px;color:#484848;letter-spacing:-0.300px;left:604.30px;">Red</div><div class="t" style="top:782.36px;font-size:22px;line-height:22px;color:#484848;letter-spacing:-0.083px;left:980.30px;">$919.31</div><svg class="a" style="left:1075px;top:783.08px" width="16" height="14" viewBox="0 0 16 14"><path d="M0.3 0.3H15.3L7.8 13.7Z" fill="#ff0000"/></svg><div class="t" style="top:782.36px;font-size:22px;line-height:22px;color:#ff0000;letter-spacing:0.088px;left:1181.60px;">($187.89)</div><div class="t" style="top:782.36px;font-size:22px;line-height:22px;color:#484848;letter-spacing:0.000px;left:1750.30px;">55%</div><svg class="a" style="left:18.75px;top:835.31px" width="16" height="16" viewBox="0 0 16 16"><rect x="0.8" y="0.8" width="13.75" height="13.75" fill="none" stroke="#000" stroke-width="1.6"/><path d="M3.5 8.1H12M7.75 3.9V12.4" stroke="#000" stroke-width="1.7"/></svg><div class="t" style="top:833.09px;font-size:22px;line-height:22px;color:#484848;letter-spacing:0.000px;right:1654.53px;text-align:right;">14</div><div class="t" style="top:833.09px;font-size:22px;line-height:22px;color:#484848;letter-spacing:1.840px;left:140.20px;">Widget</div><svg class="a" style="left:354.5px;top:831.81px" width="26" height="22" viewBox="0 0 26 22"><rect x="0" y="0.3" width="25" height="20.7" fill="#000" opacity="0.07" rx="1.8"/><rect x="0.3" y="0.8" width="24.6" height="20" fill="#000" opacity="0.08" rx="1.6"/><rect x="0.8" y="0.6" width="23.6" height="18.8" fill="#fff" rx="1"/><circle cx="12.6" cy="10" r="5.4" fill="#e0101a"/></svg><div class="t" style="top:833.09px;font-size:22px;line-height:22px;color:#484848;letter-spacing:-0.025px;left:389.80px;">Japan</div><div class="a" style="left:571.7px;top:830.12px;width:22.7px;height:22.7px;background:#000"></div><div class="t" style="top:833.09px;font-size:22px;line-height:22px;color:#484848;letter-spacing:0.050px;left:604.30px;">Black</div><div class="t" style="top:833.09px;font-size:22px;line-height:22px;color:#484848;letter-spacing:-0.083px;left:980.30px;">$717.23</div><svg class="a" style="left:1075px;top:833.81px" width="16" height="14" viewBox="0 0 16 14"><path d="M0.3 0.3H15.3L7.8 13.7Z" fill="#ff0000"/></svg><div class="t" style="top:833.09px;font-size:22px;line-height:22px;color:#ff0000;letter-spacing:0.088px;left:1181.60px;">($397.50)</div><div class="t" style="top:833.09px;font-size:22px;line-height:22px;color:#484848;letter-spacing:0.000px;left:1750.30px;">99%</div><svg class="a" style="left:18.75px;top:886.04px" width="16" height="16" viewBox="0 0 16 16"><rect x="0.8" y="0.8" width="13.75" height="13.75" fill="none" stroke="#000" stroke-width="1.6"/><path d="M3.5 8.1H12M7.75 3.9V12.4" stroke="#000" stroke-width="1.7"/></svg><div class="t" style="top:883.82px;font-size:22px;line-height:22px;color:#484848;letter-spacing:0.000px;right:1654.53px;text-align:right;">56</div><div class="t" style="top:883.82px;font-size:22px;line-height:22px;color:#484848;letter-spacing:1.840px;left:140.20px;">Widget</div><svg class="a" style="left:354.5px;top:882.54px" width="26" height="22" viewBox="0 0 26 22"><rect x="0.3" y="1" width="24.6" height="19.6" fill="#000" opacity="0.10" rx="1.6"/><rect x="0.5" y="1.3" width="24" height="19.4" fill="#000" opacity="0.08" rx="1.6"/><clipPath id="cg882"><rect x="0" y="0" width="24.5" height="19.5" rx="1.3"/></clipPath><g clip-path="url(#cg882)"><rect x="0" y="0" width="24.5" height="6.8" fill="#474747"/><rect x="0" y="6.8" width="24.5" height="5.6" fill="#dc0a16"/><rect x="0" y="12.4" width="24.5" height="7.1" fill="#f6d515"/><rect x="0" y="18" width="24.5" height="1.5" fill="#c9ae1c"/><rect x="2.5" y="2" width="19.5" height="2.6" fill="#fff" opacity="0.16"/></g></svg><div class="t" style="top:883.82px;font-size:22px;line-height:22px;color:#484848;letter-spacing:0.967px;left:390.70px;">Germany</div><div class="a" style="left:571.7px;top:880.85px;width:22.7px;height:22.7px;background:#22b14c"></div><div class="t" style="top:883.82px;font-size:22px;line-height:22px;color:#484848;letter-spacing:0.950px;left:603.50px;">Green</div><div class="t" style="top:883.82px;font-size:22px;line-height:22px;color:#484848;letter-spacing:-0.083px;left:980.30px;">$690.13</div><svg class="a" style="left:1075px;top:884.54px" width="16" height="14" viewBox="0 0 16 14"><path d="M0.3 0.3H15.3L7.8 13.7Z" fill="#ff0000"/></svg><div class="t" style="top:883.82px;font-size:22px;line-height:22px;color:#ff0000;letter-spacing:0.088px;left:1181.60px;">($144.32)</div><div class="t" style="top:883.82px;font-size:22px;line-height:22px;color:#484848;letter-spacing:0.000px;left:1763.00px;">5%</div><svg class="a" style="left:0;top:0" width="1776" height="1056"><polyline points="1296.9,681.9 1315.6,705.5 1334.3,696.1 1353.0,703.2 1371.7,696.8 1390.4,690.7 1409.1,677.2 1427.8,692.7 1446.5,683.9 1465.2,678.9 1483.9,701.5 1502.6,703.2" fill="none" stroke="#3d4d66" stroke-width="1.6" stroke-linejoin="round"/><path d="M1315.6 700.7L1320.4 705.5L1315.6 710.3L1310.8 705.5Z" fill="blue"/><path d="M1409.1 672.4L1413.9 677.2L1409.1 682.0L1404.3 677.2Z" fill="red"/><polyline points="1296.9,755.9 1315.6,748.8 1334.3,727.8 1353.0,743.4 1371.7,743.4 1390.4,740.0 1409.1,755.9 1427.8,743.4 1446.5,740.0 1465.2,743.8 1483.9,736.4 1502.6,738.4" fill="none" stroke="#3d4d66" stroke-width="1.6" stroke-linejoin="round"/><path d="M1296.9 751.1L1301.7 755.9L1296.9 760.7L1292.1 755.9Z" fill="blue"/><path d="M1334.3 723.0L1339.1 727.8L1334.3 732.6L1329.5 727.8Z" fill="red"/><path d="M1409.1 751.1L1413.9 755.9L1409.1 760.7L1404.3 755.9Z" fill="blue"/><polyline points="1296.9,792.1 1315.6,805.0 1334.3,797.6 1353.0,783.8 1371.7,778.9 1390.4,807.0 1409.1,792.3 1427.8,805.0 1446.5,791.1 1465.2,797.6 1483.9,797.6 1502.6,790.8" fill="none" stroke="#3d4d66" stroke-width="1.6" stroke-linejoin="round"/><path d="M1371.7 774.1L1376.5 778.9L1371.7 783.7L1366.9 778.9Z" fill="red"/><path d="M1390.4 802.2L1395.2 807.0L1390.4 811.8L1385.6 807.0Z" fill="blue"/><polyline points="1296.9,841.5 1315.6,845.2 1334.3,829.7 1353.0,829.7 1371.7,831.2 1390.4,834.5 1409.1,855.8 1427.8,831.2 1446.5,857.7 1465.2,844.8 1483.9,836.5 1502.6,855.8" fill="none" stroke="#3d4d66" stroke-width="1.6" stroke-linejoin="round"/><path d="M1334.3 824.9L1339.1 829.7L1334.3 834.5L1329.5 829.7Z" fill="red"/><path d="M1353.0 824.9L1357.8 829.7L1353.0 834.5L1348.2 829.7Z" fill="red"/><path d="M1446.5 852.9L1451.3 857.7L1446.5 862.5L1441.7 857.7Z" fill="blue"/><polyline points="1296.9,885.0 1315.6,904.7 1334.3,882.0 1353.0,902.4 1371.7,908.2 1390.4,899.4 1409.1,894.1 1427.8,880.5 1446.5,904.0 1465.2,906.2 1483.9,892.3 1502.6,901.2" fill="none" stroke="#3d4d66" stroke-width="1.6" stroke-linejoin="round"/><path d="M1371.7 903.4L1376.5 908.2L1371.7 913.0L1366.9 908.2Z" fill="blue"/><path d="M1427.8 875.7L1432.6 880.5L1427.8 885.3L1423.0 880.5Z" fill="red"/><path d="M1409.2 649.7L1414 654.5L1409.2 659.3L1404.4 654.5Z" fill="blue"/></svg><div class="t" style="top:983.58px;font-size:22px;line-height:22px;color:#444;letter-spacing:0.191px;font-weight:bold;left:799.80px;">Average price: $2,458.70</div><div class="t" style="top:983.58px;font-size:22px;line-height:22px;color:#444;letter-spacing:0.000px;font-weight:bold;left:1519.50px;">Average discount: 51.57%</div></div>
<svg class="a" style="left:0;top:0" width="1776" height="1056"><rect x="788.85" y="57.85" width="766.20" height="597.20" fill="#fff" stroke="#d0d0d0" stroke-width="1.7"/><rect x="789.7" y="118.1" width="384" height="1.5" fill="#d9d9d9"/><rect x="1173" y="113.1" width="381.2" height="5.1" fill="#217346"/><rect x="803.10" y="134.10" width="727.10" height="178.60" fill="none" stroke="#dadada" stroke-width="1.6"/><rect x="803.10" y="323.60" width="727.10" height="171.40" fill="none" stroke="#dadada" stroke-width="1.6"/><rect x="1469.60" y="151.00" width="39.90" height="39.90" fill="none" stroke="#9a9a9a" stroke-width="1.6"/><rect x="1469.60" y="339.90" width="39.90" height="39.90" fill="none" stroke="#9a9a9a" stroke-width="1.6"/><rect x="817.10" y="254.80" width="354.70" height="42.40" fill="#fff" stroke="#8a8a8a" stroke-width="1.6"/><rect x="1179.30" y="254.80" width="337.20" height="42.40" fill="#fff" stroke="#8a8a8a" stroke-width="1.6"/><rect x="817.10" y="436.60" width="354.70" height="42.60" fill="#fff" stroke="#8a8a8a" stroke-width="1.6"/><rect x="1179.30" y="436.60" width="337.20" height="42.60" fill="#fff" stroke="#8a8a8a" stroke-width="1.6"/><rect x="806.60" y="504.80" width="36.40" height="43.10" fill="none" stroke="#8a8a8a" stroke-width="1.6"/><rect x="1254.70" y="580.30" width="83.20" height="42.60" fill="none" stroke="#8a8a8a" stroke-width="1.6"/><rect x="1354.30" y="580.30" width="83.20" height="42.60" fill="none" stroke="#8a8a8a" stroke-width="1.6"/><rect x="1454.00" y="580.30" width="83.10" height="42.60" fill="none" stroke="#8a8a8a" stroke-width="1.6"/><circle cx="835.2" cy="407.3" r="10.7" fill="#fff" stroke="#5a5a5a" stroke-width="1.6"/><circle cx="835.2" cy="407.3" r="5.6" fill="#444"/><circle cx="926.1" cy="407.3" r="10.7" fill="#fff" stroke="#5a5a5a" stroke-width="1.6"/><path d="M1151.5 272.3L1157.5 278.3L1163.5 272.3" fill="none" stroke="#9a9a9a" stroke-width="1.3"/><path d="M1151.5 454.3L1157.5 460.3L1163.5 454.3" fill="none" stroke="#9a9a9a" stroke-width="1.3"/><path d="M1479 163.0H1497M1485.2 162.8Q1488 157.6 1490.8 162.8M1481.2 163.5L1482.3 176.8Q1482.6 178.9 1484.6 178.9H1491.4Q1493.4 178.9 1493.7 176.8L1494.8 163.5M1486.5 167.3V174.0M1490.3 167.3V174.0" fill="none" stroke="#666" stroke-width="1.5"/><path d="M1479 351.9H1497M1485.2 351.7Q1488 346.5 1490.8 351.7M1481.2 352.4L1482.3 365.7Q1482.6 367.8 1484.6 367.8H1491.4Q1493.4 367.8 1493.7 365.7L1494.8 352.4M1486.5 356.2V362.9M1490.3 356.2V362.9" fill="none" stroke="#666" stroke-width="1.5"/><path d="M818.4 527.3H830M824.2 521.5V533.1" stroke="#333" stroke-width="1.7"/><rect x="1545.4" y="640.1" width="3.6" height="3.6" rx="0.8" fill="#000"/><rect x="1538.4" y="647.1" width="3.6" height="3.6" rx="0.8" fill="#000"/><rect x="1545.4" y="647.1" width="3.6" height="3.6" rx="0.8" fill="#000"/></svg><div class="t" style="top:77.68px;font-size:22px;line-height:22px;color:#444;letter-spacing:1.173px;left:918.50px;">Value Filter</div><div class="t" style="top:77.68px;font-size:22px;line-height:22px;color:#444;letter-spacing:1.200px;left:1270.00px;">Conditional Filter</div><div class="t" style="top:213.98px;font-size:22px;line-height:22px;color:#444;letter-spacing:1.200px;left:821.20px;">Show rows where the value</div><div class="t" style="top:266.58px;font-size:22px;line-height:22px;color:#333;letter-spacing:0.777px;left:823.80px;">is Greater than or Equal to</div><div class="t" style="top:263.68px;font-size:22px;line-height:22px;color:#333;letter-spacing:0.000px;left:1183.60px;">500</div><div class="t" style="top:448.18px;font-size:22px;line-height:22px;color:#333;letter-spacing:0.282px;left:823.80px;">is Less than</div><div class="t" style="top:446.38px;font-size:22px;line-height:22px;color:#333;letter-spacing:0.000px;left:1183.60px;">1000</div><div class="t" style="top:399.88px;font-size:22px;line-height:22px;color:#333;letter-spacing:1.550px;left:856.40px;">And</div><div class="t" style="top:399.88px;font-size:22px;line-height:22px;color:#333;letter-spacing:0.800px;left:947.70px;">Or</div><div class="t" style="top:592.18px;font-size:22px;line-height:22px;color:#444;letter-spacing:1.675px;left:1264.30px;">Apply</div><div class="t" style="top:592.18px;font-size:22px;line-height:22px;color:#444;letter-spacing:0.575px;left:1368.00px;">Clear</div><div class="t" style="top:592.18px;font-size:22px;line-height:22px;color:#444;letter-spacing:0.440px;left:1459.80px;">Cancel</div>
<svg class="a" style="left:0;top:0" width="1776" height="1056"><rect x="6.5" y="1019" width="1762" height="30" fill="#fff"/><rect x="6.5" y="1017.6" width="1762" height="1.4" fill="#d6d6d6"/><rect x="7.35" y="1020.05" width="28.20" height="28.00" fill="none" stroke="#a8a8a8" stroke-width="1.7"/><rect x="36.95" y="1020.05" width="1283.40" height="28.00" fill="none" stroke="#a8a8a8" stroke-width="1.7"/><rect x="1740.25" y="1020.05" width="27.80" height="28.00" fill="none" stroke="#a8a8a8" stroke-width="1.7"/><path d="M23.8 1028L17 1034L23.8 1040.2Z" fill="#444" stroke="#444" stroke-width="0.8" stroke-linejoin="round"/><path d="M1751.8 1028L1758.6 1034L1751.8 1040.2Z" fill="#444" stroke="#444" stroke-width="0.8" stroke-linejoin="round"/><rect x="5" y="4.4" width="1765.7" height="1.9" fill="#707070"/><rect x="4.9" y="4.4" width="1.6" height="1046.3" fill="#686868"/><rect x="1768.8" y="4.4" width="1.9" height="1046.3" fill="#6c6c6c"/><rect x="4.9" y="1048.8" width="1765.8" height="1.9" fill="#707070"/></svg>
</body></html>
